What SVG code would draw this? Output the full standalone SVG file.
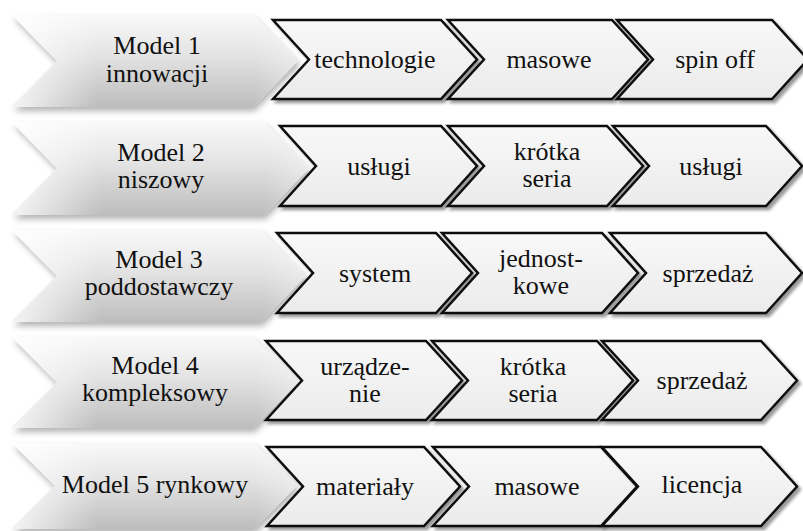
<svg xmlns="http://www.w3.org/2000/svg" width="803" height="531" viewBox="0 0 803 531">
<defs>
<linearGradient id="gBig" x1="0" y1="0" x2="0" y2="1">
<stop offset="0" stop-color="#f9f9f9"/>
<stop offset="0.45" stop-color="#e3e3e3"/>
<stop offset="1" stop-color="#bdbdbd"/>
</linearGradient>
<linearGradient id="gBigH" x1="0" y1="0" x2="1" y2="0">
<stop offset="0" stop-color="#ffffff" stop-opacity="0.85"/>
<stop offset="0.3" stop-color="#ffffff" stop-opacity="0"/>
<stop offset="0.85" stop-color="#ffffff" stop-opacity="0"/>
<stop offset="1" stop-color="#ffffff" stop-opacity="0.35"/>
</linearGradient>
<linearGradient id="gSmall" x1="0" y1="0" x2="0" y2="1">
<stop offset="0" stop-color="#f8f8f8"/>
<stop offset="1" stop-color="#ebebeb"/>
</linearGradient>
<filter id="shBig" x="-10%" y="-20%" width="125%" height="150%">
<feDropShadow dx="2" dy="4" stdDeviation="3" flood-color="#000" flood-opacity="0.3"/>
</filter>
<filter id="shSmall" x="-10%" y="-20%" width="125%" height="150%">
<feDropShadow dx="3" dy="3" stdDeviation="1.5" flood-color="#000" flood-opacity="0.4"/>
</filter>
</defs>
<style>
.big{fill:url(#gBig);filter:url(#shBig);}
.bigh{fill:url(#gBigH);}
.sm{fill:url(#gSmall);stroke:#111;stroke-width:2.5;stroke-linejoin:miter;filter:url(#shSmall);}
.t{font-size:26px;fill:#111;text-anchor:middle;}
</style>
<rect width="803" height="531" fill="#ffffff"/>
<g font-family="Liberation Serif, DejaVu Serif, serif">
<!-- Row 1 -->
<g id="model1">
<path class="big" d="M12,15 H253 L298,61 L253,107 H12 L57,61 Z"/>
<path class="bigh" d="M12,15 H253 L298,61 L253,107 H12 L57,61 Z"/>
<text class="t" x="157" y="54">Model 1</text>
<text class="t" x="157" y="82">innowacji</text>
</g>
<g id="r1c1">
<path class="sm" d="M273,20 H441 L477,59.5 L441,99 H273 L309,59.5 Z"/>
<text class="t" x="375" y="68">technologie</text>
</g>
<g id="r1c2">
<path class="sm" d="M448,20 H612 L648,59.5 L612,99 H448 L484,59.5 Z"/>
<text class="t" x="549" y="68">masowe</text>
</g>
<g id="r1c3">
<path class="sm" d="M617,20 H772 L808,59.5 L772,99 H617 L653,59.5 Z"/>
<text class="t" x="715" y="68">spin off</text>
</g>

<!-- Row 2 -->
<g id="model2">
<path class="big" d="M12,122 H264 L309,168.5 L264,215 H12 L57,168.5 Z"/>
<path class="bigh" d="M12,122 H264 L309,168.5 L264,215 H12 L57,168.5 Z"/>
<text class="t" x="161" y="161">Model 2</text>
<text class="t" x="161" y="188">niszowy</text>
</g>
<g id="r2c1">
<path class="sm" d="M280,126 H441 L477,166 L441,206 H280 L316,166 Z"/>
<text class="t" x="379" y="174.5">usługi</text>
</g>
<g id="r2c2">
<path class="sm" d="M448,126 H607 L643,166 L607,206 H448 L484,166 Z"/>
<text class="t" x="547" y="160">krótka</text>
<text class="t" x="547" y="187">seria</text>
</g>
<g id="r2c3">
<path class="sm" d="M613,126 H766 L802,166 L766,206 H613 L649,166 Z"/>
<text class="t" x="711" y="174.5">usługi</text>
</g>

<!-- Row 3 -->
<g id="model3">
<path class="big" d="M12,230 H261 L306,276 L261,322 H12 L57,276 Z"/>
<path class="bigh" d="M12,230 H261 L306,276 L261,322 H12 L57,276 Z"/>
<text class="t" x="159" y="268">Model 3</text>
<text class="t" x="159" y="295">poddostawczy</text>
</g>
<g id="r3c1">
<path class="sm" d="M277,233 H436 L472,273 L436,313 H277 L313,273 Z"/>
<text class="t" x="375" y="281.5">system</text>
</g>
<g id="r3c2">
<path class="sm" d="M442,233 H602 L638,273 L602,313 H442 L478,273 Z"/>
<text class="t" x="541" y="267">jednost-</text>
<text class="t" x="541" y="294">kowe</text>
</g>
<g id="r3c3">
<path class="sm" d="M610,233 H766 L802,273 L766,313 H610 L646,273 Z"/>
<text class="t" x="708" y="281.5">sprzedaż</text>
</g>

<!-- Row 4 -->
<g id="model4">
<path class="big" d="M12,337 H253 L298,382.5 L253,428 H12 L57,382.5 Z"/>
<path class="bigh" d="M12,337 H253 L298,382.5 L253,428 H12 L57,382.5 Z"/>
<text class="t" x="155" y="374">Model 4</text>
<text class="t" x="155" y="401">kompleksowy</text>
</g>
<g id="r4c1">
<path class="sm" d="M266,341 H426 L462,380.5 L426,420 H266 L302,380.5 Z"/>
<text class="t" x="365" y="375">urządze-</text>
<text class="t" x="365" y="402">nie</text>
</g>
<g id="r4c2">
<path class="sm" d="M432,341 H597 L633,380.5 L597,420 H432 L468,380.5 Z"/>
<text class="t" x="533" y="375">krótka</text>
<text class="t" x="533" y="402">seria</text>
</g>
<g id="r4c3">
<path class="sm" d="M602,341 H761 L797,380.5 L761,420 H602 L638,380.5 Z"/>
<text class="t" x="702" y="389">sprzedaż</text>
</g>

<!-- Row 5 -->
<g id="model5">
<path class="big" d="M12,443 H254 L297,486 L254,529 H12 L55,486 Z"/>
<path class="bigh" d="M12,443 H254 L297,486 L254,529 H12 L55,486 Z"/>
<text class="t" x="155" y="493">Model 5 rynkowy</text>
</g>
<g id="r5c1">
<path class="sm" d="M267,447 H424 L460,486.5 L424,526 H267 L303,486.5 Z"/>
<text class="t" x="365" y="495">materiały</text>
</g>
<g id="r5c2">
<path class="sm" d="M433,447 H601 L637,486.5 L601,526 H433 L469,486.5 Z"/>
<text class="t" x="537" y="495">masowe</text>
</g>
<g id="r5c3">
<path class="sm" d="M602,447 H761 L797,486.5 L761,526 H602 L638,486.5 Z"/>
<text class="t" x="702" y="493">licencja</text>
</g>
</g>
</svg>
